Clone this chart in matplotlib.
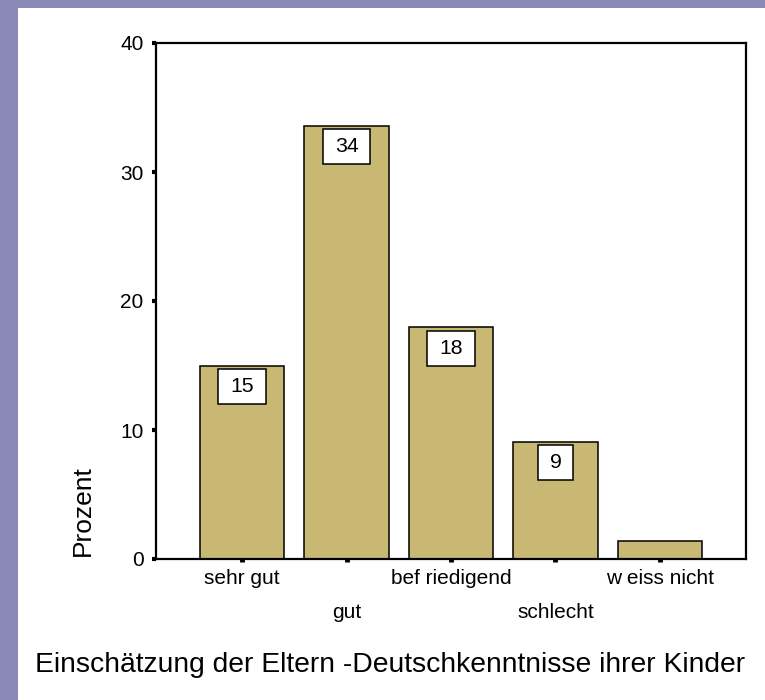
import matplotlib
matplotlib.use("Agg")
import matplotlib.pyplot as plt
from matplotlib.patches import Rectangle
from matplotlib.path import Path
from matplotlib.transforms import ScaledTranslation

plt.rcParams['font.family'] = ['Liberation Sans', 'DejaVu Sans']

categories = ['sehr gut', 'gut', 'befriedigend', 'schlecht', 'weiss nicht']
tick_texts = ['sehr gut', 'gut', 'bef riedigend', 'schlecht', 'w eiss nicht']
values = [15.0, 33.6, 18.0, 9.1, 1.4]
value_labels = ['15', '34', '18', '9', None]
yticks = [0, 10, 20, 30, 40]
ylabel = 'Prozent'
xlabel = 'Einschätzung der Eltern -Deutschkenntnisse ihrer Kinder'

W, H, DPI = 765, 700, 100
fig = plt.figure(figsize=(W / DPI, H / DPI), dpi=DPI)
fig.patch.set_facecolor('#8b89b6')
fig.patches.append(Rectangle((18 / W, 0), 1 - 18 / W, (H - 8) / H,
                             transform=fig.transFigure, facecolor='white',
                             edgecolor='none', zorder=-10))

ax = fig.add_axes([156 / W, 1 - 559 / H, (746 - 156) / W, (559 - 43) / H])
ax.set_zorder(1)
ax.set_facecolor('white')

x = list(range(len(categories)))
bars = ax.bar(x, values, width=0.81, color='#c9b873', edgecolor='black',
              linewidth=1.1, zorder=2)

ax.set_xlim(-0.823, len(categories) - 1 + 0.823)
ax.set_ylim(0, 40)
ax.set_yticks(yticks)
ax.set_yticklabels([str(v) for v in yticks])
ax.set_xticks(x)
ax.set_xticklabels(tick_texts)

for s in ax.spines.values():
    s.set_linewidth(1.6)
    s.set_color('black')

ax.tick_params(axis='y', direction='out', length=3, width=3, pad=6,
               labelsize=15, colors='black')
ax.tick_params(axis='x', direction='out', length=2.2, width=3.5, pad=5,
               labelsize=15, colors='black')

# alternate x tick labels in two rows
for i, lab in enumerate(ax.get_xticklabels()):
    if i % 2 == 1:
        lab.set_transform(lab.get_transform() +
                          ScaledTranslation(0, -34 / DPI, fig.dpi_scale_trans))


def label_box(x0, y0, width, height, mutation_size):
    px = 0.56 * mutation_size
    py = 0.38 * mutation_size
    return Path([(x0 - px, y0 - py), (x0 + width + px, y0 - py),
                 (x0 + width + px, y0 + height + py),
                 (x0 - px, y0 + height + py), (x0 - px, y0 - py)],
                closed=True)


for xi, v, lab in zip(x, values, value_labels):
    if lab is None:
        continue
    ax.annotate(lab, xy=(xi, v), xytext=(0, -8.5), textcoords='offset points',
                ha='center', va='top', fontsize=15.3, color='black', zorder=4,
                bbox=dict(boxstyle=label_box, facecolor='white',
                          edgecolor='black', linewidth=1.1))

ax.set_ylabel(ylabel, fontsize=19)
ax.yaxis.set_label_coords((83 - 156) / 590, (559 - 511) / 516)
ax.yaxis.label.set_va('center')

ax.set_xlabel(xlabel, fontsize=20.3)
ax.xaxis.set_label_coords((390 - 156) / 590, (559 - 665) / 516)
ax.xaxis.label.set_va('center')

fig.savefig('out.png', dpi=DPI, facecolor=fig.get_facecolor())
